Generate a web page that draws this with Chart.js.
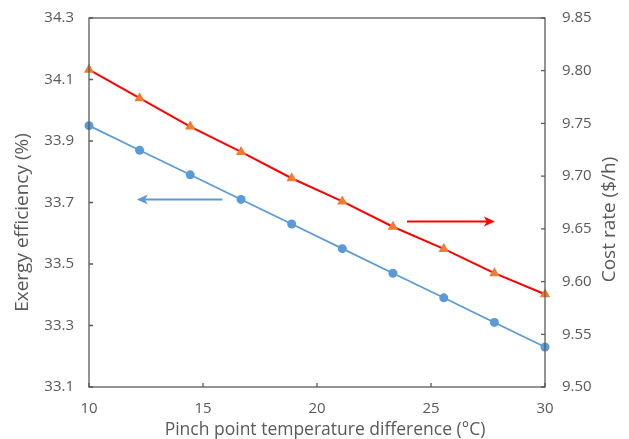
<!DOCTYPE html>
<html>
<head>
<meta charset="utf-8">
<script src="https://cdn.jsdelivr.net/npm/chart.js"></script>
<style>
html, body { margin: 0; padding: 0; background: #fff; }
#wrap { width: 629px; height: 439px; }
</style>
</head>
<body>
<div id="wrap"><canvas id="grafico"></canvas></div>
<script>
const pinchDiff = [10, 12.22, 14.44, 16.67, 18.89, 21.11, 23.33, 25.56, 27.78, 30];
const exergyEff = [33.95, 33.87, 33.79, 33.71, 33.63, 33.55, 33.47, 33.39, 33.31, 33.23];
const costRate = [9.801, 9.774, 9.747, 9.723, 9.698, 9.676, 9.652, 9.631, 9.608, 9.588];
const xRange = [10, 30];
const leftRange = [33.1, 34.3];
const rightRange = [9.50, 9.85];
// flechas: [x inicio, x fin, y]
const arrowLeft = [15.85, 12.1, 33.71];
const arrowRight = [23.95, 27.8, 9.657];

const gris = '#595959';
const fuente = 'Open Sans';

function puntos(xs, ys) {
  return xs.map((x, i) => ({x: x, y: ys[i]}));
}

function flecha(ctx, x1, y1, x2, y2, color) {
  const dir = Math.sign(x2 - x1);
  ctx.save();
  ctx.strokeStyle = color;
  ctx.fillStyle = color;
  ctx.lineWidth = 2;
  ctx.beginPath();
  ctx.moveTo(x1, y1);
  ctx.lineTo(x2 - dir * 8, y2);
  ctx.stroke();
  ctx.beginPath();
  ctx.moveTo(x2, y2);
  ctx.lineTo(x2 - dir * 11, y2 - 5);
  ctx.lineTo(x2 - dir * 8, y2);
  ctx.lineTo(x2 - dir * 11, y2 + 5);
  ctx.closePath();
  ctx.fill();
  ctx.restore();
}

function texto(ctx, txt, x, y, size, rot) {
  ctx.save();
  ctx.translate(x, y);
  ctx.rotate(rot);
  ctx.fillStyle = gris;
  ctx.font = size + 'px "' + fuente + '"';
  ctx.textAlign = 'center';
  ctx.textBaseline = 'middle';
  ctx.fillText(txt, 0, 0);
  ctx.restore();
}

const extras = {
  id: 'extras',
  afterDraw(chart) {
    const ctx = chart.ctx;
    const a = chart.chartArea;
    const sx = chart.scales.x, sl = chart.scales.y, sr = chart.scales.y1;
    ctx.save();
    ctx.strokeStyle = gris;
    ctx.lineWidth = 1.3;
    ctx.strokeRect(a.left, a.top, a.right - a.left, a.bottom - a.top);
    ctx.beginPath();
    sx.ticks.forEach(t => {
      const p = sx.getPixelForValue(t.value);
      ctx.moveTo(p, a.bottom); ctx.lineTo(p, a.bottom - 4);
    });
    sl.ticks.forEach(t => {
      const p = sl.getPixelForValue(t.value);
      ctx.moveTo(a.left, p); ctx.lineTo(a.left + 4, p);
    });
    sr.ticks.forEach(t => {
      const p = sr.getPixelForValue(t.value);
      ctx.moveTo(a.right, p); ctx.lineTo(a.right - 4, p);
    });
    ctx.stroke();
    ctx.restore();

    // titulos de ejes
    texto(ctx, 'Pinch point temperature difference (°C)', (a.left + a.right) / 2 + 8, 430, 17.5, 0);
    texto(ctx, 'Exergy efficiency (%)', 23, (a.top + a.bottom) / 2 + 20, 19, -Math.PI / 2);
    texto(ctx, 'Cost rate ($/h)', 610, (a.top + a.bottom) / 2 + 17, 19, -Math.PI / 2);

    flecha(ctx, sx.getPixelForValue(arrowLeft[0]), sl.getPixelForValue(arrowLeft[2]),
      sx.getPixelForValue(arrowLeft[1]), sl.getPixelForValue(arrowLeft[2]), '#5B9BD5');
    flecha(ctx, sx.getPixelForValue(arrowRight[0]), sr.getPixelForValue(arrowRight[2]),
      sx.getPixelForValue(arrowRight[1]), sr.getPixelForValue(arrowRight[2]), '#FF0000');
  }
};

function sinRelleno(scale, ancho) {
  scale.width = ancho;
  scale.paddingTop = 0;
  scale.paddingBottom = 0;
}

const ctx = document.getElementById('grafico').getContext('2d');
const chart = new Chart(ctx, {
  type: 'line',
  data: {
    datasets: [{
      label: 'Exergy efficiency',
      data: puntos(pinchDiff, exergyEff),
      yAxisID: 'y',
      borderColor: '#5B9BD5',
      backgroundColor: '#5B9BD5',
      borderWidth: 1.75,
      pointStyle: 'circle',
      pointRadius: 4.5,
      pointBorderWidth: 0,
      clip: false
    }, {
      label: 'Cost rate',
      data: puntos(pinchDiff, costRate),
      yAxisID: 'y1',
      borderColor: '#FF0000',
      backgroundColor: '#ED7D31',
      borderWidth: 2,
      pointStyle: 'triangle',
      pointRadius: 6,
      pointBorderWidth: 0,
      clip: false
    }]
  },
  options: {
    responsive: true,
    maintainAspectRatio: false,
    animation: false,
    layout: { padding: { top: 18, left: 0, right: 0, bottom: 0 } },
    plugins: {
      legend: { display: false },
      tooltip: { enabled: false }
    },
    scales: {
      x: {
        type: 'linear',
        min: xRange[0],
        max: xRange[1],
        grid: { display: false, drawTicks: false },
        border: { display: false },
        ticks: { stepSize: 5, padding: 13, color: gris, font: { family: fuente, size: 15 } },
        afterFit(scale) { scale.height = 52; scale.paddingLeft = 0; scale.paddingRight = 0; }
      },
      y: {
        position: 'left',
        min: leftRange[0],
        max: leftRange[1],
        grid: { display: false, drawTicks: false },
        border: { display: false },
        ticks: {
          stepSize: 0.2, padding: 15, color: gris, font: { family: fuente, size: 15 },
          callback: v => v.toFixed(1)
        },
        afterFit(scale) { sinRelleno(scale, 89); }
      },
      y1: {
        position: 'right',
        min: rightRange[0],
        max: rightRange[1],
        grid: { display: false, drawTicks: false },
        border: { display: false },
        ticks: {
          stepSize: 0.05, padding: 17, color: gris, font: { family: fuente, size: 15 },
          callback: v => v.toFixed(2)
        },
        afterFit(scale) { sinRelleno(scale, 84); }
      }
    }
  },
  plugins: [extras]
});
</script>
</body>
</html>
